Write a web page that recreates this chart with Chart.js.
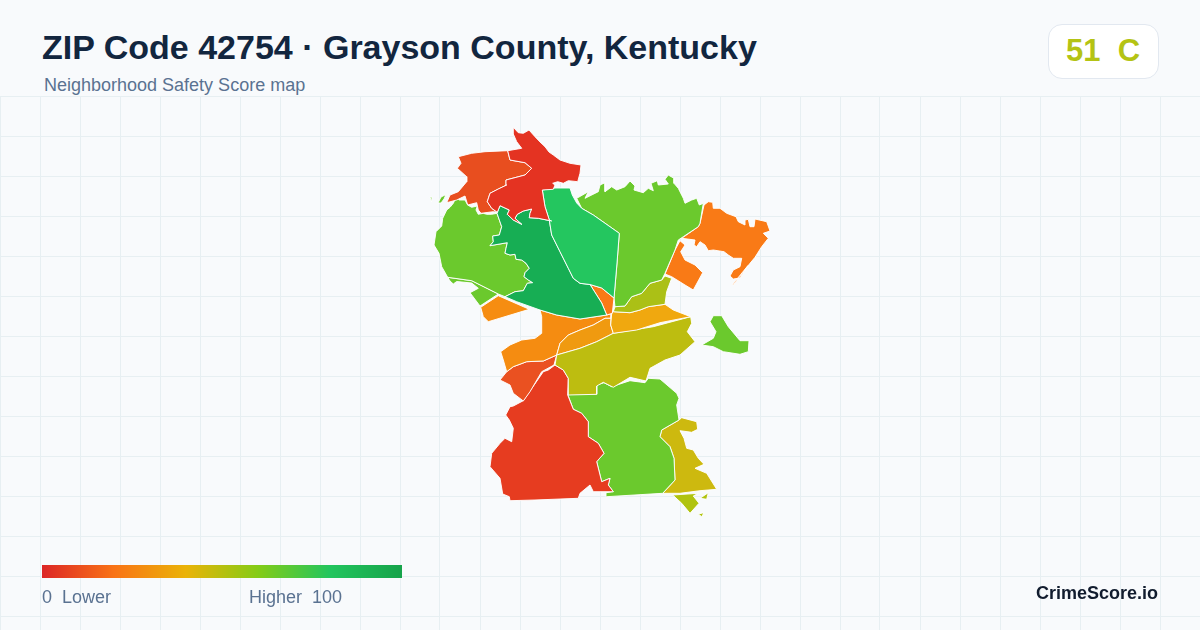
<!DOCTYPE html>
<html>
<head>
<meta charset="utf-8">
<script src="https://cdn.jsdelivr.net/npm/chart.js@4"></script>
<style>
html,body{margin:0;padding:0;width:1200px;height:630px;overflow:hidden;background:#f8fafc;font-family:"Liberation Sans",Arial,sans-serif}
#wrap{position:relative;width:1200px;height:630px}
#map{position:absolute;left:0;top:96px}
.t{position:absolute;white-space:pre}
#title{left:42px;top:27px;font-size:34px;font-weight:700;line-height:41px;color:#12263f}
#sub{left:44px;top:75px;font-size:18px;line-height:20px;color:#5a7291}
#badge{position:absolute;left:1048px;top:24px;width:109px;height:53px;background:#fff;border:1px solid #e2e8f0;border-radius:14px}
#score{left:1047.5px;width:111px;top:34px;text-align:center;font-size:31px;line-height:34px;font-weight:700;color:#b4c314}
#bar{position:absolute;left:42px;top:565px;width:360px;height:13px;background:linear-gradient(90deg,#dc2626 0%,#f97316 20%,#eab308 40%,#84cc16 60%,#22c55e 80%,#16a34a 100%)}
.lg{top:587px;font-size:18px;line-height:20px;color:#5a7291}
#brand{right:42px;top:583px;font-size:18px;line-height:21px;font-weight:700;color:#111c2e}
</style>
</head>
<body>
<div id="wrap">
<canvas id="map" width="1200" height="534"></canvas>
<div class="t" id="title">ZIP Code 42754 · Grayson County, Kentucky</div>
<div class="t" id="sub">Neighborhood Safety Score map</div>
<div id="badge"></div>
<div class="t" id="score">51  C</div>
<div id="bar"></div>
<div class="t lg" style="left:42px">0  Lower</div>
<div class="t lg" style="left:249px">Higher  100</div>
<div class="t" id="brand">CrimeScore.io</div>
</div>
<script>
const gridCols = [0,40,80,120,160,200,240,280,320,360,400,440,480,520,560,600,640,680,720,760,800,840,880,920,960,1000,1040,1080,1120,1160];
const gridRows = [96,136,176,216,256,296,336,376,416,456,496,536,576,616];

const limeSeam = [515,291.7,523.3,290.7,526,285.7,527.3,283.3,532.7,282.7,528.3,280,524,276.7,525,272.7,529.3,268.3,526,263.3,521.7,260,516,259.3,515,254.3,510,255,505,253.3,506,248.3,507.3,242.7,490,245.7,493.3,241.7,492.7,236,499.3,235,501.7,226.7];
const north = [507.7,150.7,521.7,148.3,516.7,141.7,513.3,134,513.3,127.3,518.3,132.7,523.3,133.3,529,130,535,136.7,540,142,545,146.7,549,152,553.3,155,560,160,570,163.3,581,165,580,173.3,577.7,181.7,568.3,180.7,563.3,183.3,557.7,181.7,552.7,183.3,555,185,553.3,189.3,542.3,190,545,206.7,549.3,220,551.7,221,538.3,218.3,529.3,217.7,530,213.3,531.7,209,523.3,211,517.3,214.3,515,218.3,521.7,224.3,513.3,220,507.3,214.3,509.3,210,500,205.7,497.3,212.3,491.7,208.3,487.3,201.7,490,193.3,498.3,189,506.7,185,506,180,525,175,531.7,168.3,525,162.7,510,160];
const northwest = [507.7,150.7,485,151.7,471.7,153.3,458.3,156.7,461,163.3,457.3,168.3,466.7,176.7,466.7,181.7,458.3,191.7,450,195,446.7,202.7,456.7,200,465,196,467.7,205,476.7,202.7,478.3,210,481,213.3,493.3,211.7,497.3,212.3,491.7,208.3,487.3,201.7,490,193.3,498.3,189,506.7,185,506,180,525,175,531.7,168.3,525,162.7,510,160];
const centerGreen = [542.3,190,555,188,570,188,572.3,195,576.7,203,581.7,208.3,593.3,215,619.3,233.3,617,263,614,298,601.7,288,590,284.5,580,283.3,573.3,278.3,568.3,268.3,560,251.7,551.7,235,549.3,220,545,206.7];
const midGreen = [497,213.3,500,205.7,509.3,210,507.3,214.3,513.3,220,521.7,224.3,515,218.3,517.3,214.3,523.3,211,531.7,209,530,213.3,529.3,217.7,538.3,218.3,551.7,221,549.3,220,551.7,235,560,251.7,568.3,268.3,573.3,278.3,580,283.3,590,284.5,601.7,303,606.7,315,580,319,556.7,315,540,310,516.7,301.7,505,296.7,...limeSeam];
const westLime = [497,213.3,491.7,214.3,486.7,214.3,483.3,213.3,478.3,214.3,476,210,477.3,206,471.7,207.3,467.7,205,465,200,459.3,200,456,197.3,453.3,203.3,450,207.3,446.7,210,442.7,218.3,441.7,226,436,231.7,434,245,439,253.3,441.7,266.7,447.7,277.3,471.7,280.7,498.3,294,505,296.7,...limeSeam];
const westStrip = [447.7,277.3,471.7,280.7,498.3,294,480,306,470,292.7,478.3,288.3,471.7,283,456.7,281.5,453.3,284,450,281];
const westOrange = [498.3,295.7,529.3,309.3,488.3,321.7,483.3,316.7,480.7,307.3];
const sliver = [590,284.5,601.7,288,614,298,612.3,313.3,606.7,315,601.7,303];
const eastLime = [576.7,198.3,588.3,191.7,585,198.3,598.3,191.7,600,185,605,182.7,605,191.7,611.7,186.7,616.7,190,625,186.7,630,181,635,186,634,190,643.3,192.7,648.3,188.3,653.3,190.7,651,183.3,657.3,180.7,658.3,185,668.3,184,665,179.3,668.3,175,674,178.3,674,183.3,678.3,188.3,683.3,198.3,685,203.3,691.7,200,696.7,198.3,699.3,205,703.3,203.3,700,223.3,698.3,226.7,683.3,236.7,678.3,240,675,250,665,273.3,661.7,280,650,283.3,641.7,293.3,631.7,296.7,625,306,615,306.7,614,298,617,263,619.3,233.3,593.3,215,581.7,208.3];
const eastOrange = [704,205,708.3,201.7,712.7,202.3,713.3,208.3,720,208.3,726.7,213.3,736,216.7,738.3,221.7,745,225,745,220,748.3,219.3,750,226.7,754,226.7,755,219,766.7,221.7,770,231,763.3,233.3,768.3,238.3,761.7,246.7,755,257.3,750,263.3,733.3,285,732.5,284.5,748,265.5,740,278,733.3,279,730,276,733.3,270,740,266.7,741.7,258.3,733.3,258.3,728.3,255,724,251.7,713.3,250,708.3,250.7,705,245,700,241.7,696.7,246.7,694,245,695,240,681.7,238.3,698.3,226.7,700,223.3];
const midOrange = [680,240.7,685,245,680.7,251.7,685,260,695,265,702.7,272.7,696,285,693.3,290,685,285,671.7,276.7,665,274,675,250];
const northOlive = [665,276,671.7,278.3,666.7,291.7,665,304.3,648.3,306.7,640,310,630,312.7,613.3,311.7,615,306.7,625,306,631.7,296.7,641.7,293.3,650,283.3,661.7,280];
const amberBand = [613.3,311.7,630,312.7,640,310,648.3,306.7,665,304.3,673.3,310,690.7,316.7,660,322.7,636.7,330,613.3,333.3,610.7,325,611.7,313];
const olive = [556.7,355,580,348.3,596.7,341.7,613.3,333.3,653.3,326.7,690.7,316.7,691.7,323.3,687.3,331.7,695,341.7,680,355,665,360,650,368.3,646,381,630,377.3,613.3,387.3,603.3,382.3,596.7,386,596.7,394.3,568.3,395,568.3,378.3,563.3,370,555,365];
const midAmber = [556.7,355,560,343.3,568.3,335,580,330,593.3,325,605,318.3,611,318.3,610.7,325,613.3,333.3,596.7,341.7,580,348.3];
const leftOrange = [540,310,556.7,315,580,319,606.7,315,611.5,313.5,611,318.3,605,318.3,593.3,325,580,330,568.3,335,560,343.3,556.7,355,543.3,361,526.7,361.7,513.3,366.7,506.7,371.7,503.3,360,500.7,351.7,510,345,521.7,340,535,338.3,541.7,333.3,541.7,316.7];
const southwestRed = [506.7,371.7,500,380,510,385,513.3,393.3,523.3,401,530,391.7,541.7,371.7,554,365,556.7,355,543.3,361,526.7,361.7,513.3,366.7];
const southRed = [548.3,370,543.3,371.7,523.3,400.7,513.3,406,510,406.7,505.7,415,509.3,420,513.3,428.3,511.7,441.7,505,438.3,500,443.3,491.7,453.3,490,466.7,500,478.3,502.7,494,509.3,496.7,510,500.7,535,500,578.3,498.3,580,493.3,590,485,593.3,491.7,613.3,491.7,608.3,485,610,478.3,601.7,481.7,596.7,461.7,604,453.3,598.3,443.3,588.3,436.7,588.3,421.7,581.7,413.3,573.3,409.3,567.7,395,568.3,378.3,563.3,370,555,365];
const southLime = [567.7,394.3,596.7,394,596.7,385,604,382.7,611.7,386.7,630,380.7,645,382.7,648.3,378.3,660,379,676.7,393.3,679,398.3,676.7,405,679,420,661.7,430,660,436.7,670,446.7,674,458.3,675,480,662.7,493.3,606.7,496.7,606,492.7,613.3,491.7,608.3,485,610,478.3,601.7,481.7,596.7,461.7,604,453.3,598.3,443.3,588.3,436.7,588.3,421.7,581.7,413.3,573.3,409.3];
const southeastGold = [662.7,493.3,675,480,674,458.3,670,446.7,660,436.7,661.7,430,679,420,681.7,417.7,696.7,421.7,697.7,429.3,691.7,432.3,680,430.7,684,438.3,686.7,448.3,693.3,450,698.3,458.3,704,464.3,695,468.3,706.7,473.3,716.7,489.3,700,490.7,680,493.3];
const tailA = [672.7,495,698.3,493.3,693.3,496,699,503.3,690,513.3,681.7,503.3];
const tailB = [700,498.3,708.3,492.7,706.7,499.3];
const tailC = [698.3,514,704,512.7,701.7,516.7];
const island = [701.7,345,713.3,338.3,716,331.7,710,321.7,713.3,315.7,721.7,315.7,728.3,326.7,740,340.7,749,340.7,748.3,351.7,740,354.3,723.3,351.7,713.3,346.7];
const speckA = [430,197,432,197,431.5,202];
const speckB = [438,203,441,197,446,194.5,444,199,441,203];

const regions = [north,northwest,centerGreen,midGreen,westLime,westStrip,westOrange,sliver,eastLime,eastOrange,midOrange,northOlive,amberBand,olive,midAmber,leftOrange,southwestRed,southRed,southLime,southeastGold,tailA,tailB,tailC,island,speckA,speckB];
const regionColors = ['#e43322','#e84e1f','#24c65f','#17ae54','#6bc92d','#6bc92d','#f68d11','#f97a16','#6bc92d','#f97a16','#f97a16','#abc016','#f0a80f','#bdbd10','#f09a10','#f58c11','#ea5121','#e63c20','#6bc92d','#cdb90f','#b0c30f','#b0c30f','#b0c30f','#6bc92d','#6bc92d','#6bc92d'];

function toPoints(flat){
  const pts=[];
  for(let i=0;i<flat.length;i+=2) pts.push({x:flat[i],y:flat[i+1]});
  pts.push({x:flat[0],y:flat[1]});
  return pts;
}
Chart.defaults.animation=false;
new Chart(document.getElementById('map'),{
  type:'scatter',
  data:{datasets:regions.map((r,i)=>({
    data:toPoints(r),showLine:true,fill:'shape',tension:0,pointRadius:0,
    backgroundColor:regionColors[i],borderColor:'rgba(255,255,255,0.92)',borderWidth:1,borderJoinStyle:'round',clip:false
  }))},
  options:{
    responsive:false,devicePixelRatio:1,maintainAspectRatio:false,
    layout:{padding:0},
    plugins:{legend:{display:false},tooltip:{enabled:false}},
    scales:{
      x:{type:'linear',min:0,max:1200,position:'bottom',
        afterBuildTicks:s=>{s.ticks=gridCols.map(v=>({value:v}));},
        border:{display:false},ticks:{display:false},
        grid:{color:'#e7eff2',lineWidth:1,drawTicks:false}},
      y:{type:'linear',min:96,max:630,reverse:true,
        afterBuildTicks:s=>{s.ticks=gridRows.map(v=>({value:v}));},
        border:{display:false},ticks:{display:false},
        grid:{color:'#e7eff2',lineWidth:1,drawTicks:false}}
    }
  }
});
</script>
</body>
</html>
